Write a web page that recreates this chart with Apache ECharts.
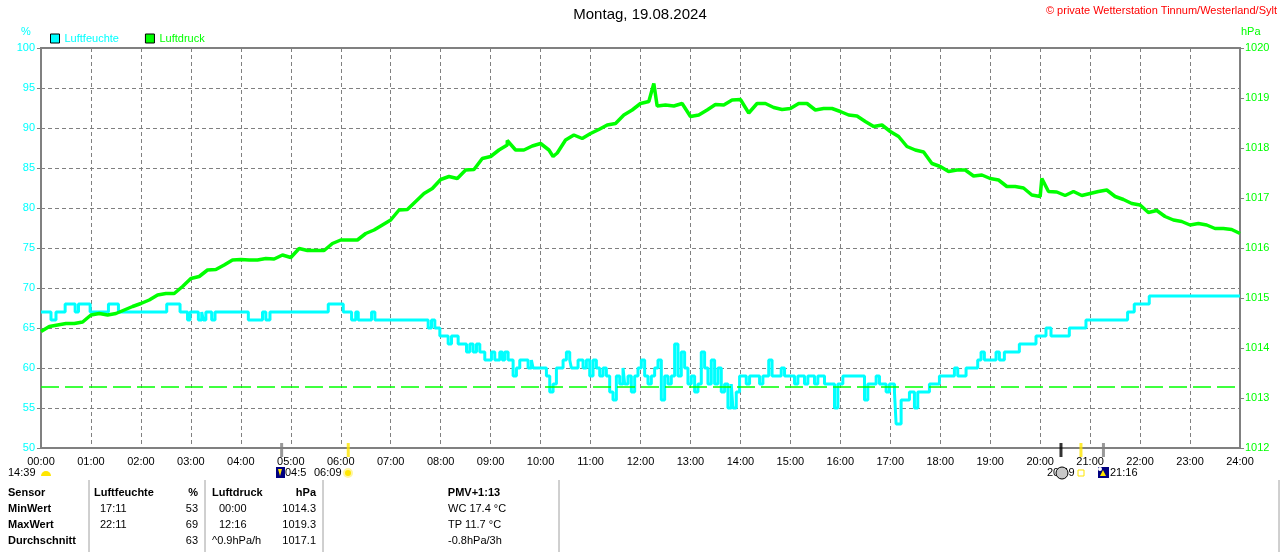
<!DOCTYPE html>
<html>
<head>
  <meta charset="utf-8">
  <title>Luftfeuchte / Luftdruck 19.08.2024</title>
  <script src="https://cdn.jsdelivr.net/npm/echarts@6/dist/echarts.min.js"></script>
  <style>html, body { margin: 0; padding: 0; background: #fff; }</style>
</head>
<body>
  <div id="main" style="width:1280px;height:552px;"></div>
  <script type="text/javascript">
    // Luftfeuchte in %, [Minute des Tages, Wert], Wert gilt bis zum naechsten Punkt
    var humSteps = [
      [0,67],[12,66],[18,67],[29,68],[41,67],[45,68],[59,67],[81,68],[93,67],[151,68],
      [167,67],[176,66],[179,67],[189,66],[193,67],[195,66],[198,67],[205,66],[209,67],[249,66],
      [266,67],[270,66],[275,67],[345,68],[363,67],[373,66],[378,67],[381,66],[397,67],[401,66],
      [465,65],[469,66],[473,65],[479,64],[489,63],[493,64],[501,63],[511,62],[515,63],[519,62],
      [523,63],[527,62],[533,61],[541,62],[545,61],[551,62],[554,61],[557,62],[561,61],[567,59],
      [571,60],[575,61],[585,60],[589,61],[591,60],[607,59],[611,57],[615,58],[619,60],[627,61],
      [631,62],[635,61],[637,60],[645,61],[651,60],[655,61],[659,59],[663,61],[667,60],[671,59],
      [675,60],[679,59],[683,57],[687,56],[691,59],[695,58],[699,60],[701,58],[705,59],[709,57],
      [713,59],[717,60],[721,61],[725,59],[729,58],[733,59],[737,60],[741,61],[745,56],[749,59],
      [753,58],[757,59],[761,63],[765,59],[769,62],[773,60],[777,58],[781,59],[785,57],[789,58],
      [793,62],[797,60],[801,58],[805,61],[809,58],[813,60],[817,57],[821,58],[825,55],[829,58],
      [831,55],[835,57],[839,59],[847,58],[851,59],[863,58],[867,59],[874,61],[878,59],[889,60],
      [893,59],[905,58],[909,59],[917,58],[921,59],[929,58],[933,59],[941,58],[953,55],[957,58],
      [963,59],[989,56],[993,58],[1003,59],[1007,58],[1015,57],[1019,58],[1025,57],[1027,53],[1033,56],
      [1043,57],[1049,55],[1053,57],[1067,58],[1079,59],[1097,60],[1101,59],[1111,60],[1125,61],[1129,62],
      [1133,61],[1147,62],[1151,61],[1157,62],[1175,63],[1195,64],[1207,65],[1213,64],[1235,65],[1255,66],
      [1305,67],[1313,68],[1331,69],[1440,69]
    ];

    // Luftdruck in hPa, alle 10 Minuten ab 00:00
    var presValues = [
      1014.33, 1014.43, 1014.46, 1014.49, 1014.49, 1014.52,
      1014.66, 1014.69, 1014.66, 1014.69, 1014.76, 1014.83,
      1014.89, 1014.96, 1015.06, 1015.09, 1015.09, 1015.23,
      1015.39, 1015.43, 1015.56, 1015.57, 1015.66, 1015.76,
      1015.77, 1015.76, 1015.76, 1015.79, 1015.78, 1015.86,
      1015.81, 1015.99, 1015.95, 1015.95, 1015.95, 1016.09,
      1016.16, 1016.16, 1016.16, 1016.29, 1016.36, 1016.46,
      1016.56, 1016.76, 1016.77, 1016.93, 1017.09, 1017.19,
      1017.37, 1017.43, 1017.39, 1017.56, 1017.57, 1017.79,
      1017.83, 1017.96, 1018.06, 1017.96, 1017.96, 1018.04,
      1018.09, 1017.96, 1017.90, 1018.16, 1018.26, 1018.19,
      1018.29, 1018.37, 1018.46, 1018.49, 1018.66, 1018.76,
      1018.89, 1018.93, 1018.84, 1018.86, 1018.84, 1018.89,
      1018.63, 1018.66, 1018.76, 1018.87, 1018.86, 1018.96,
      1018.97, 1018.70, 1018.89, 1018.89, 1018.81, 1018.77,
      1018.79, 1018.89, 1018.89, 1018.76, 1018.79, 1018.79,
      1018.73, 1018.66, 1018.64, 1018.53, 1018.43, 1018.46,
      1018.33, 1018.23, 1018.03, 1017.96, 1017.92, 1017.69,
      1017.63, 1017.53, 1017.56, 1017.56, 1017.44, 1017.46,
      1017.39, 1017.36, 1017.23, 1017.23, 1017.20, 1017.06,
      1017.03, 1017.13, 1017.12, 1017.05, 1017.13, 1017.05,
      1017.09, 1017.13, 1017.16, 1017.03, 1016.97, 1016.89,
      1016.86, 1016.71, 1016.75, 1016.63, 1016.56, 1016.53,
      1016.46, 1016.49, 1016.46, 1016.39, 1016.39, 1016.37,
      1016.29
    ];
    // einzelne Ausreisser zwischen den 10-Minuten-Werten
    var presSpikes = [[560, 1018.15], [615, 1017.83], [736, 1019.29], [1202, 1017.39]];

    var presRefLine = 1013.22;   // gestrichelte Linie

    // Sonne / Mond Markierungen an der Zeitachse (Minuten)
    var eventTimes = [289, 369, 1225, 1249, 1276];
    var eventColors = ['#808080', '#ffe600', '#000000', '#ffe600', '#808080'];

    var hourTicks = 60;

    // Tabelle unten
    var tabRows = ['Sensor', 'MinWert', 'MaxWert', 'Durchschnitt'];
    var humTimesTab = ['17:11', '22:11', ''];
    var humValsTab = ['53', '69', '63'];
    var presTimesTab = ['00:00', '12:16', '^0.9hPa/h'];
    var presValsTab = ['1014.3', '1019.3', '1017.1'];
    var pmvTab = ['WC 17.4 °C', 'TP 11.7 °C', '-0.8hPa/3h'];

    var CYAN = '#00ffff', GREEN = '#00ff00', GRAY = '#808080';
    var FONT = 'Liberation Sans, Arial, sans-serif';

    function hhmm(m) {
      var h = Math.floor(m / 60), mm = m % 60;
      return (h < 10 ? '0' : '') + h + ':' + (mm < 10 ? '0' : '') + mm;
    }

    var presData = presValues.map(function (v, i) { return [i * 10, v]; })
      .concat(presSpikes)
      .sort(function (a, b) { return a[0] - b[0]; });

    var myChart = echarts.init(document.getElementById('main'));

    // Grafik-Elemente: Tabelle, Einheiten, Sonnen-/Mondsymbole
    var g = [];
    function txt(x, y, s, opt) {
      opt = opt || {};
      g.push({
        type: 'text', x: x, y: y, silent: true,
        style: {
          text: s, fill: opt.color || '#000', font: (opt.bold ? 'bold ' : '') + (opt.size || 11) + 'px ' + FONT,
          textAlign: opt.align || 'left', textVerticalAlign: 'middle'
        }
      });
    }
    txt(26, 32, '%', { color: CYAN, align: 'center' });
    txt(1241, 32, 'hPa', { color: GREEN });

    // Zeile unter der Achse
    txt(8, 473, '14:39');
    g.push({ type: 'sector', shape: { cx: 46, cy: 476, r: 5, startAngle: Math.PI, endAngle: 2 * Math.PI }, style: { fill: '#ffe600' } });
    g.push({ type: 'rect', shape: { x: 276, y: 467, width: 9, height: 11 }, style: { fill: '#000080' } });
    g.push({ type: 'polygon', shape: { points: [[278, 469], [282, 469], [280, 476]] }, style: { fill: '#ffe600' } });
    txt(285, 473, '04:5');
    txt(314, 473, '06:09');
    g.push({ type: 'circle', shape: { cx: 348, cy: 473, r: 4 }, style: { fill: '#ffe600', stroke: '#fff6a0', lineWidth: 2 } });
    txt(1047, 473, '20:49');
    g.push({ type: 'circle', shape: { cx: 1062, cy: 473, r: 6 }, style: { fill: '#c8c8c8', stroke: '#000', lineWidth: 1 } });
    g.push({ type: 'rect', shape: { x: 1078, y: 470, width: 6, height: 6 }, style: { fill: '#fff', stroke: '#ffe600', lineWidth: 1 } });
    g.push({ type: 'rect', shape: { x: 1098, y: 467, width: 11, height: 11 }, style: { fill: '#000080' } });
    g.push({ type: 'polygon', shape: { points: [[1103, 470], [1106, 476], [1100, 476]] }, style: { fill: '#ffe600' } });
    g.push({ type: 'circle', shape: { cx: 1100, cy: 469, r: 2 }, style: { fill: '#fff' } });
    txt(1110, 473, '21:16');

    // Tabelle
    [89, 205, 323, 559, 1279].forEach(function (x) {
      g.push({ type: 'line', shape: { x1: x, y1: 480, x2: x, y2: 552 }, style: { stroke: '#a0a0a0', lineWidth: 1 } });
    });
    var rowY = [493, 509, 525, 541];
    tabRows.forEach(function (r, i) { txt(8, rowY[i], r, { bold: true }); });
    txt(94, rowY[0], 'Luftfeuchte', { bold: true });
    txt(198, rowY[0], '%', { bold: true, align: 'right' });
    txt(212, rowY[0], 'Luftdruck', { bold: true });
    txt(316, rowY[0], 'hPa', { bold: true, align: 'right' });
    txt(474, rowY[0], 'PMV+1:13', { bold: true, align: 'center' });
    for (var i = 0; i < 3; i++) {
      txt(100, rowY[i + 1], humTimesTab[i]);
      txt(198, rowY[i + 1], humValsTab[i], { align: 'right' });
      txt(i < 2 ? 219 : 212, rowY[i + 1], presTimesTab[i]);
      txt(316, rowY[i + 1], presValsTab[i], { align: 'right' });
      txt(448, rowY[i + 1], pmvTab[i]);
    }

    var option = {
      animation: false,
      backgroundColor: '#fff',
      textStyle: { fontFamily: FONT },
      title: [
        { text: 'Montag, 19.08.2024', left: 'center', top: 7, padding: 0, textStyle: { fontSize: 15, fontWeight: 'normal', color: '#000', fontFamily: FONT } },
        { text: '© private Wetterstation Tinnum/Westerland/Sylt', right: 3, top: 5, padding: 0, textStyle: { fontSize: 11, fontWeight: 'normal', color: '#ff0000', fontFamily: FONT } }
      ],
      legend: {
        left: 50, top: 33, padding: 0, itemWidth: 9, itemHeight: 9, itemGap: 26, icon: 'rect',
        itemStyle: { borderColor: '#000', borderWidth: 1 },
        data: [
          { name: 'Luftfeuchte', textStyle: { color: CYAN } },
          { name: 'Luftdruck', textStyle: { color: GREEN } }
        ],
        textStyle: { fontSize: 11, fontFamily: FONT }
      },
      grid: { left: 41, right: 40, top: 48, bottom: 104, show: true, borderColor: GRAY, borderWidth: 2 },
      xAxis: {
        type: 'value', min: 0, max: 1440, interval: hourTicks,
        axisLine: { show: true, lineStyle: { color: GRAY, width: 2 } },
        axisTick: { show: false },
        axisLabel: { color: '#000', fontSize: 11, margin: 8, formatter: hhmm },
        splitLine: { show: true, lineStyle: { color: GRAY, type: [4, 3], width: 1 } }
      },
      yAxis: [
        {
          type: 'value', min: 50, max: 100, interval: 5, position: 'left',
          axisLine: { show: true, lineStyle: { color: GRAY, width: 2 } },
          axisTick: { show: true, length: 4, lineStyle: { color: GRAY } },
          axisLabel: { color: CYAN, fontSize: 11, margin: 6 },
          splitLine: { show: true, lineStyle: { color: GRAY, type: [4, 3], width: 1 } }
        },
        {
          type: 'value', min: 1012, max: 1020, interval: 1, position: 'right',
          axisLine: { show: true, lineStyle: { color: GRAY, width: 2 } },
          axisTick: { show: true, length: 4, lineStyle: { color: GRAY } },
          axisLabel: { color: GREEN, fontSize: 11, margin: 5, formatter: function (v) { return String(v); } },
          splitLine: { show: false }
        }
      ],
      series: [
        {
          name: 'Luftfeuchte', type: 'line', yAxisIndex: 0, step: 'end',
          data: humSteps, showSymbol: false, symbol: 'none',
          color: CYAN, lineStyle: { color: CYAN, width: 3 }, itemStyle: { color: CYAN }
        },
        {
          name: 'Luftdruck', type: 'line', yAxisIndex: 1,
          data: presData, showSymbol: false, symbol: 'none',
          color: GREEN, lineStyle: { color: GREEN, width: 3.5 }, itemStyle: { color: GREEN },
          markLine: {
            silent: true, symbol: 'none', label: { show: false },
            lineStyle: { color: GREEN, type: [18, 6], width: 1.5 },
            data: [{ yAxis: presRefLine }]
          }
        },
        {
          name: 'Ereignisse', type: 'scatter', yAxisIndex: 0, clip: false, silent: true,
          symbol: 'rect', symbolSize: [3, 14], symbolOffset: [0, 2],
          data: eventTimes.map(function (t, i) { return { value: [t, 50], itemStyle: { color: eventColors[i] } }; }),
          z: 5
        }
      ],
      graphic: g
    };

    myChart.setOption(option);
  </script>
</body>
</html>
